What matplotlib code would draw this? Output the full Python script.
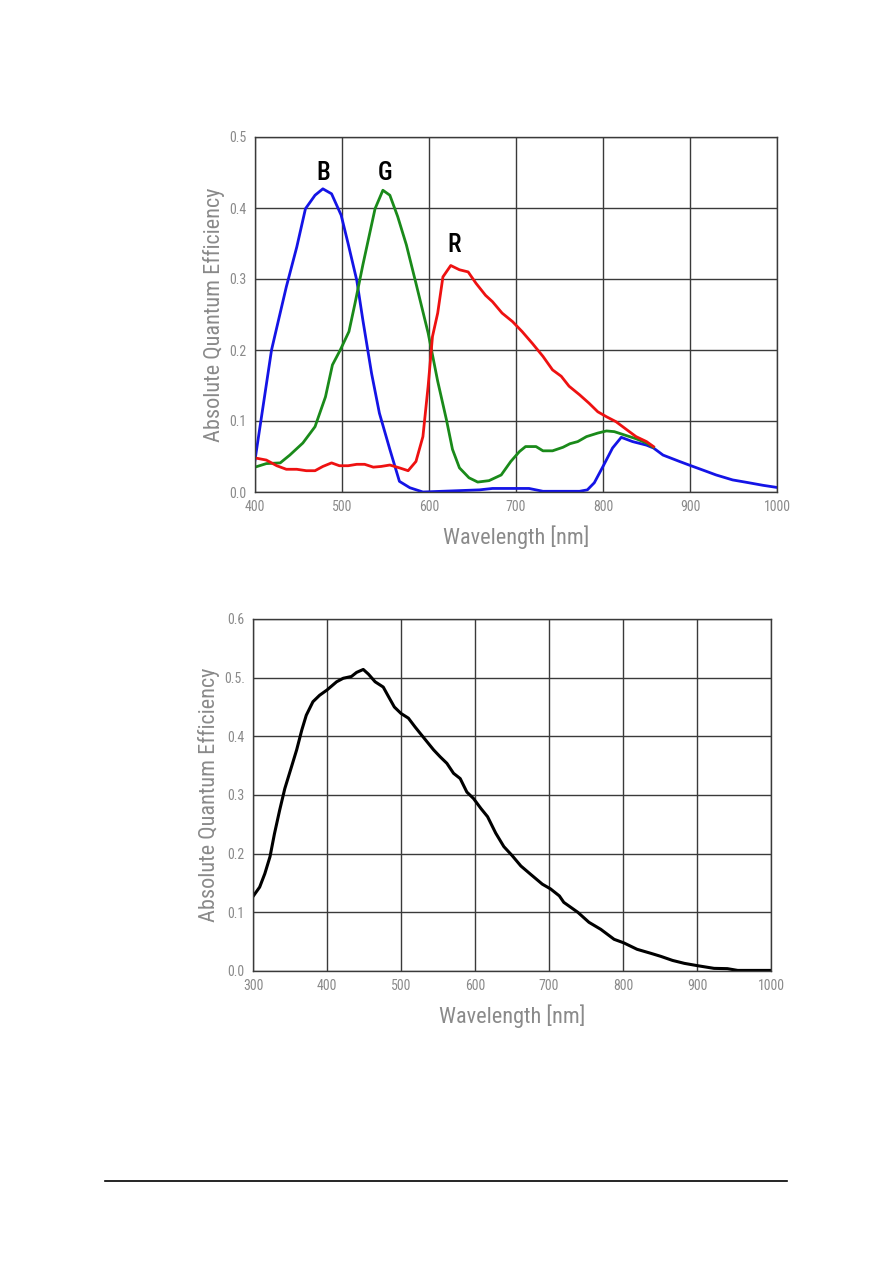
import matplotlib.pyplot as plt
from matplotlib.lines import Line2D
from matplotlib import font_manager

# fuente estrecha si existe
nombres = {f.name for f in font_manager.fontManager.ttflist}
fuente = 'DejaVu Sans'
for cand in ['Roboto Condensed', 'Barlow Semi Condensed', 'Archivo Narrow', 'PT Sans Narrow',
             'Liberation Sans Narrow', 'Open Sans Condensed']:
    if cand in nombres:
        fuente = cand
        break
estrecha = fuente != 'DejaVu Sans'
plt.rcParams['font.family'] = [fuente, 'DejaVu Sans']

# --- datos grafico superior (RGB) ---
azul_x = [400, 419, 427, 436, 448, 458, 469, 478, 488, 499, 507, 517, 524, 534, 543, 555, 566, 578, 593,
          658, 673, 715, 731, 773, 782, 790, 800, 811, 821, 834, 850, 858, 869, 888, 900, 919, 930, 949,
          965, 984, 999]
azul_y = [0.045, 0.200, 0.242, 0.289, 0.345, 0.399, 0.418, 0.427, 0.420, 0.390, 0.350, 0.298, 0.242, 0.167,
          0.111, 0.060, 0.015, 0.006, 0.000, 0.003, 0.005, 0.005, 0.001, 0.001, 0.003, 0.013, 0.036, 0.062,
          0.077, 0.071, 0.066, 0.062, 0.052, 0.043, 0.0375, 0.029, 0.024, 0.017, 0.0136, 0.0094, 0.0066]

verde_x = [400, 413, 429, 440, 455, 469, 481, 489, 498, 508, 515, 524, 538, 547, 555, 564, 574, 585, 599,
           610, 620, 627, 635, 646, 656, 669, 683, 694, 704, 711, 723, 731, 742, 754, 762, 771, 781, 794,
           804, 813, 823, 838, 850, 858]
verde_y = [0.035, 0.040, 0.041, 0.052, 0.069, 0.092, 0.134, 0.179, 0.200, 0.226, 0.266, 0.320, 0.399, 0.425,
           0.418, 0.388, 0.348, 0.294, 0.224, 0.156, 0.102, 0.060, 0.034, 0.020, 0.014, 0.016, 0.024, 0.043,
           0.057, 0.064, 0.064, 0.058, 0.058, 0.063, 0.068, 0.071, 0.078, 0.083, 0.086, 0.085, 0.081, 0.075,
           0.069, 0.063]

rojo_x = [400, 413, 425, 436, 448, 459, 469, 478, 488, 497, 507, 517, 526, 536, 545, 555, 566, 576, 585,
          593, 599, 604, 610, 616, 625, 635, 645, 654, 665, 673, 684, 696, 707, 719, 731, 742, 752, 761,
          773, 784, 794, 804, 815, 827, 838, 850, 858]
rojo_y = [0.048, 0.045, 0.037, 0.032, 0.032, 0.030, 0.030, 0.036, 0.041, 0.037, 0.037, 0.039, 0.039, 0.035,
          0.036, 0.038, 0.034, 0.030, 0.043, 0.078, 0.149, 0.219, 0.252, 0.303, 0.319, 0.313, 0.310, 0.294,
          0.277, 0.268, 0.252, 0.240, 0.226, 0.209, 0.191, 0.172, 0.163, 0.149, 0.137, 0.125, 0.113, 0.106,
          0.099, 0.088, 0.078, 0.071, 0.064]

# --- datos grafico inferior (mono) ---
mono_x = [300, 309, 316, 323, 329, 336, 343, 352, 359, 366, 372, 381, 390, 400, 413, 422, 433, 440, 449,
          456, 465, 476, 483, 491, 500, 510, 519, 526, 535, 544, 553, 562, 571, 580, 589, 598, 608, 617,
          628, 639, 650, 662, 675, 691, 702, 714, 720, 739, 754, 770, 788, 801, 819, 838, 851, 867, 883,
          901, 923, 941, 955, 968, 1000]
mono_y = [0.127, 0.143, 0.166, 0.195, 0.234, 0.274, 0.311, 0.348, 0.377, 0.411, 0.436, 0.459, 0.470, 0.479,
          0.493, 0.499, 0.502, 0.509, 0.514, 0.506, 0.493, 0.484, 0.468, 0.450, 0.439, 0.431, 0.416, 0.405,
          0.391, 0.377, 0.365, 0.354, 0.337, 0.328, 0.305, 0.294, 0.277, 0.263, 0.235, 0.212, 0.197, 0.179,
          0.165, 0.148, 0.140, 0.128, 0.117, 0.100, 0.083, 0.071, 0.054, 0.048, 0.037, 0.030, 0.025, 0.018,
          0.013, 0.009, 0.0045, 0.004, 0.001, 0.001, 0.001]

ticks_y_sup = [0.0, 0.1, 0.2, 0.3, 0.4, 0.5]
etiq_y_sup = ['0.0', '0.1', '0.2', '0.3', '0.4', '0.5']
ticks_x_sup = [400, 500, 600, 700, 800, 900, 1000]
ticks_y_inf = [0.0, 0.1, 0.2, 0.3, 0.4, 0.5, 0.6]
etiq_y_inf = ['0.0', '0.1', '0.2', '0.3', '0.4', '0.5.', '0.6']
ticks_x_inf = [300, 400, 500, 600, 700, 800, 900, 1000]

gris = '#8a8a8a'
rejilla = '#3a3a3a'
t_label = 16 if estrecha else 12
t_tick = 10 if estrecha else 8.5
t_letra = 18 if estrecha else 14

fig = plt.figure(figsize=(8.93, 12.63), dpi=100)


def preparar(ax, xt, yt, ylab):
    ax.set_xticks(xt)
    ax.set_xticklabels([str(v) for v in xt])
    ax.set_yticks(yt)
    ax.set_yticklabels(ylab)
    ax.set_xlim(xt[0], xt[-1])
    ax.set_ylim(yt[0], yt[-1])
    ax.grid(True, color=rejilla, linewidth=1.0)
    ax.set_axisbelow(True)
    for s in ax.spines.values():
        s.set_color(rejilla)
        s.set_linewidth(1.0)
    ax.tick_params(length=0, colors=gris, labelsize=t_tick, pad=6)
    ax.set_ylabel('Absolute Quantum Efficiency', color=gris, fontsize=t_label, labelpad=3)
    ax.set_xlabel('Wavelength [nm]', color=gris, fontsize=t_label, labelpad=8)


ax1 = fig.add_axes([255 / 893, 1 - 492 / 1263, 522 / 893, 355 / 1263])
preparar(ax1, ticks_x_sup, ticks_y_sup, etiq_y_sup)
ax1.plot(azul_x, azul_y, color='#1414e6', linewidth=2)
ax1.plot(verde_x, verde_y, color='#1a8a1a', linewidth=2)
ax1.plot(rojo_x, rojo_y, color='#ee1111', linewidth=2)
ax1.text(478, 0.449, 'B', fontsize=t_letra, fontweight='medium', ha='center', va='center')
ax1.text(549, 0.449, 'G', fontsize=t_letra, fontweight='medium', ha='center', va='center')
ax1.text(629, 0.348, 'R', fontsize=t_letra, fontweight='medium', ha='center', va='center')

ax2 = fig.add_axes([253 / 893, 1 - 971 / 1263, 518 / 893, 352 / 1263])
preparar(ax2, ticks_x_inf, ticks_y_inf, etiq_y_inf)
ax2.plot(mono_x, mono_y, color='black', linewidth=2.2)

# linea de pie de pagina
fig.add_artist(Line2D([105 / 893, 787 / 893], [1 - 1181 / 1263, 1 - 1181 / 1263],
                      color='black', linewidth=1.2))

plt.savefig('out.png', dpi=100)
